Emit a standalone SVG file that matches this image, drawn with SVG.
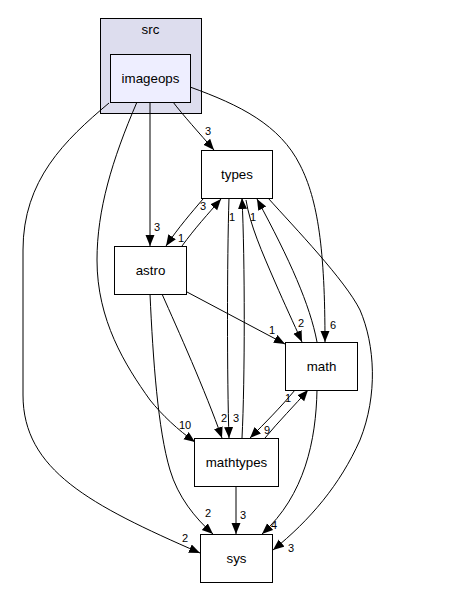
<svg xmlns="http://www.w3.org/2000/svg" width="466" height="600" viewBox="0 0 466 600">
<defs>
<marker id="ah" markerUnits="userSpaceOnUse" markerWidth="12" markerHeight="10" refX="11" refY="4.5" orient="auto">
<path d="M0,0 L11,4.5 L0,9 z" fill="#000"/>
</marker>
<style>
.n rect{fill:#fff;stroke:#000;stroke-width:1}
.t{font-family:"Liberation Sans",Arial,sans-serif;font-size:13.33px;text-anchor:middle;fill:#000}
.e path{fill:none;stroke:#000;stroke-width:1;marker-end:url(#ah)}
.l{font-family:"Liberation Sans",Arial,sans-serif;font-size:11px;text-anchor:middle;fill:#000}
</style>
</defs>
<rect width="466" height="600" fill="#fff"/>
<g id="cluster_src">
<rect x="100.5" y="18.5" width="101" height="95" fill="#ddddee" stroke="#000"/>
<text class="t" x="150.5" y="34">src</text>
</g>
<g id="imageops" class="n">
<rect x="110.5" y="54.5" width="80" height="48" style="fill:#eeeeff"/>
<text class="t" x="150.5" y="83">imageops</text>
</g>
<g id="types" class="n">
<rect x="201.5" y="150.5" width="71" height="48"/>
<text class="t" x="237" y="179">types</text>
</g>
<g id="astro" class="n">
<rect x="114.5" y="246.5" width="72" height="48"/>
<text class="t" x="150.5" y="275">astro</text>
</g>
<g id="math" class="n">
<rect x="285.5" y="342.5" width="72" height="48"/>
<text class="t" x="321.5" y="371">math</text>
</g>
<g id="mathtypes" class="n">
<rect x="194.5" y="438.5" width="84" height="48"/>
<text class="t" x="236.5" y="467">mathtypes</text>
</g>
<g id="sys" class="n">
<rect x="200.5" y="534.5" width="72" height="48"/>
<text class="t" x="236.5" y="563">sys</text>
</g>
<g id="edges" class="e">
<path d="M173,102 C182,114 200,134 214,150"/>
<path d="M150,102 L150,246"/>
<path d="M137,102 C112,160 97,210 97,260 C97,320 125,365 150,400 C162,415 178,430 195,442"/>
<path d="M109,103 C65,140 23,180 23,250 L23,395 C23,470 90,505 200,553"/>
<path d="M190,87 C240,105 280,125 300,165 C318,200 325,250 325,342"/>
<path d="M203,199 C192,212 178,228 166,246"/>
<path d="M182,246 C195,228 208,214 221,199"/>
<path d="M229,198 C227,260 227,380 229,438"/>
<path d="M242,438 C245,380 245,260 242,198"/>
<path d="M246,200 C250,225 262,252 275,282 C285,305 293,322 302,342"/>
<path d="M268,198 C295,228 345,280 360,310 C375,345 378,395 360,440 C340,485 310,520 273,550"/>
<path d="M317,390 C316,440 305,495 262,534"/>
<path d="M236,486 L236,534"/>
<path d="M150,294 C153,360 158,430 170,470 C178,497 195,518 213,534"/>
<path d="M162,294 C178,330 205,390 222,438"/>
<path d="M187,292 L285,344"/>
<path d="M295,390 C280,408 265,423 250,438"/>
<path d="M265,438 C278,422 295,405 308,390"/>
<path d="M317,342 C310,305 290,260 257,199"/>
</g>
<g id="labels">
<text class="l" x="208" y="135">3</text>
<text class="l" x="157" y="231">3</text>
<text class="l" x="185" y="429">10</text>
<text class="l" x="185" y="542">2</text>
<text class="l" x="333" y="329">6</text>
<text class="l" x="203" y="210">3</text>
<text class="l" x="181" y="242">1</text>
<text class="l" x="232" y="221">1</text>
<text class="l" x="253" y="221">1</text>
<text class="l" x="224" y="422">2</text>
<text class="l" x="236" y="422">3</text>
<text class="l" x="301" y="327">2</text>
<text class="l" x="272" y="334">1</text>
<text class="l" x="288" y="402">1</text>
<text class="l" x="267" y="434">9</text>
<text class="l" x="208" y="517">2</text>
<text class="l" x="243" y="519">3</text>
<text class="l" x="274" y="529">4</text>
<text class="l" x="291" y="552">3</text>
</g>
</svg>
